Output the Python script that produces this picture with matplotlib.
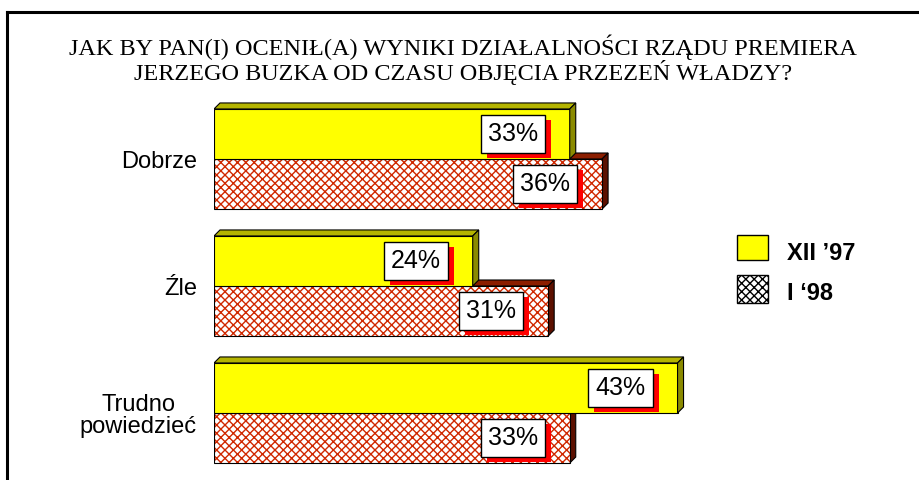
import numpy as np
import matplotlib
matplotlib.use('Agg')
import matplotlib.pyplot as plt
import matplotlib.patheffects as pe
from matplotlib.patches import Polygon, Rectangle
from matplotlib.lines import Line2D

# data
categories = ['Dobrze', 'Źle', 'Trudno\npowiedzieć']
xii_97 = [33, 24, 43]
i_98 = [36, 31, 33]
series_names = ['XII \u201997', 'I \u201898']
title = ('JAK BY PAN(I) OCENIŁ(A) WYNIKI DZIAŁALNOŚCI RZĄDU PREMIERA\n'
         'JERZEGO BUZKA OD CZASU OBJĘCIA PRZEZEŃ WŁADZY?')

plt.rcParams['hatch.linewidth'] = 1.0

W, H = 920, 480
fig = plt.figure(figsize=(W / 100, H / 100), dpi=100)
fig.patch.set_facecolor('white')

px_x = 10.78   # pixels per percent
px_y = 127.0   # pixels per category
x0 = 214
ax = fig.add_axes([x0 / W, 0, 1 - x0 / W, 1])
ax.set_xlim(0, (W - x0) / px_x)
ax.set_ylim((H - 159) / px_y, -159 / px_y)
ax.axis('off')

h = 0.394
dx = 6 / px_x
dy = 6 / px_y

yellow = '#ffff00'
y_top, y_side = '#b4b400', '#8a8a00'
red_h = '#d02800'
r_top, r_side = '#8c1e00', '#5c1000'


def depth(w, top, bot, ctop, cside):
    ax.add_patch(Polygon([(0, top), (w, top), (w + dx, top - dy), (dx, top - dy)],
                         closed=True, facecolor=ctop, edgecolor='black', lw=0.8))
    ax.add_patch(Polygon([(w, top), (w, bot), (w + dx, bot - dy), (w + dx, top - dy)],
                         closed=True, facecolor=cside, edgecolor='black', lw=0.8))


ypos = np.arange(len(categories))
for i in ypos:
    # hatched bar (I '98), below the boundary
    depth(i_98[i], i, i + h, r_top, r_side)
    ax.barh(i, i_98[i], height=h, align='edge', color='white',
            edgecolor=red_h, hatch='xxxx', lw=0)
    ax.barh(i, i_98[i], height=h, align='edge', fill=False,
            edgecolor='black', lw=0.8)
    # yellow bar (XII '97), above the boundary
    ax.barh(i - h, xii_97[i], height=h, align='edge', color=yellow,
            edgecolor='black', lw=0.8)
    depth(xii_97[i], i - h, i, y_top, y_side)

off = 57 / px_x
shadow_fx = [pe.SimplePatchShadow(offset=(4.3, -3.6), shadow_rgbFace='red', alpha=1.0),
             pe.Normal()]
for i in ypos:
    for v, yc in ((xii_97[i], i - h / 2), (i_98[i], i + h / 2)):
        t = ax.text(v - off, yc, f'{v}%', ha='center', va='center', fontsize=18,
                    family='Liberation Sans', color='black',
                    bbox=dict(boxstyle='square,pad=0.28', facecolor='white',
                              edgecolor='black', lw=1))
        t.get_bbox_patch().set_path_effects(shadow_fx)

# category labels
for i, c in zip(ypos, categories):
    ax.text(-17 / px_x, i + 3 / px_y, c, ha='right', va='center', ma='center',
            fontsize=17, family='Liberation Sans', linespacing=1.05)

# title
fig.text(463 / W, 1 - 60 / H, title, ha='center', va='center',
         fontsize=17.5, family='Liberation Serif', linespacing=1.02)

# legend
fig.add_artist(Rectangle((737 / W, 1 - 260 / H), 31 / W, 25 / H,
                         transform=fig.transFigure, facecolor=yellow,
                         edgecolor='black', lw=1))
fig.add_artist(Rectangle((737 / W, 1 - 303 / H), 31 / W, 28 / H,
                         transform=fig.transFigure, facecolor='white',
                         edgecolor='black', hatch='xxxx', lw=1))
fig.text(787 / W, 1 - 253 / H, series_names[0], ha='left', va='center',
         fontsize=17, fontweight='bold', family='Liberation Sans')
fig.text(787 / W, 1 - 293 / H, series_names[1], ha='left', va='center',
         fontsize=17, fontweight='bold', family='Liberation Sans')

# frame
fig.add_artist(Line2D([7 / W, 7 / W], [0, 1 - 12 / H], color='black', lw=2.2,
                      transform=fig.transFigure))
fig.add_artist(Line2D([7 / W, 1], [1 - 12 / H, 1 - 12 / H], color='black', lw=2.2,
                      transform=fig.transFigure))

fig.savefig('out.png', dpi=100)
